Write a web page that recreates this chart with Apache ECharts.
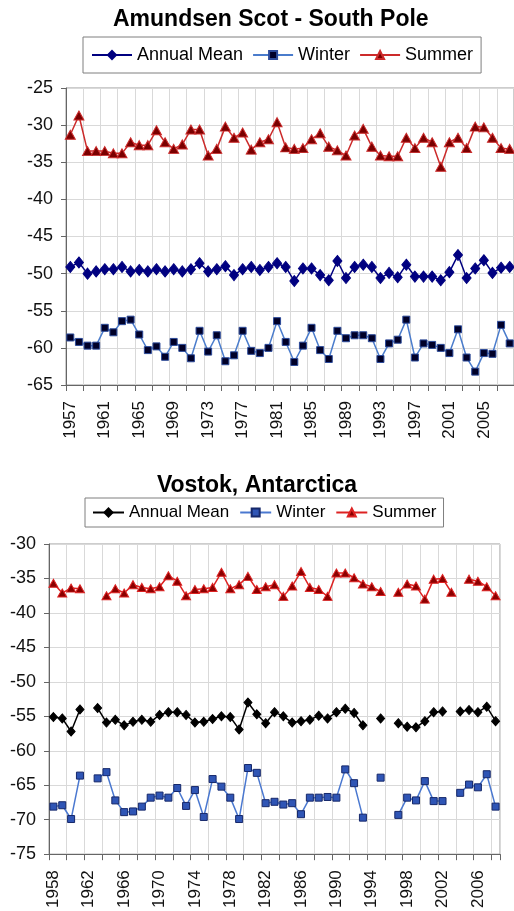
<!DOCTYPE html>
<html>
<head>
<meta charset="utf-8">
<script src="https://cdn.jsdelivr.net/npm/echarts@6/dist/echarts.min.js"></script>
<style>
  html, body { margin: 0; padding: 0; background: #fff; }
  #south_pole { width: 514px; height: 465px; }
  #vostok { width: 514px; height: 446px; }
</style>
</head>
<body>
<div id="south_pole"></div>
<div id="vostok"></div>
<script>
// Amundsen Scot - South Pole, 1957-2008
const pole_years = [];
for (let y = 1957; y <= 2008; y++) pole_years.push(String(y));
const pole_annual = [-49.1, -48.5, -50.0, -49.7, -49.4, -49.4, -49.1, -49.7, -49.5, -49.7,
  -49.4, -49.7, -49.4, -49.7, -49.4, -48.6, -49.7, -49.4, -49.0, -50.2,
  -49.4, -49.1, -49.5, -49.1, -48.6, -49.1, -51.0, -49.3, -49.3, -50.2,
  -50.9, -48.3, -50.6, -49.1, -48.8, -49.1, -50.6, -49.9, -50.5, -48.8,
  -50.4, -50.4, -50.4, -50.9, -49.8, -47.5, -50.6, -49.3, -48.2, -49.9,
  -49.2, -49.1];
const pole_winter = [-58.6, -59.2, -59.7, -59.7, -57.3, -57.9, -56.4, -56.2, -58.2, -60.3,
  -59.8, -61.2, -59.2, -60.0, -61.4, -57.7, -60.5, -58.3, -61.8, -61.0,
  -57.7, -60.4, -60.7, -60.0, -56.4, -59.2, -61.9, -59.7, -57.3, -60.3,
  -61.5, -57.7, -58.7, -58.3, -58.3, -58.7, -61.5, -59.4, -58.9, -56.2,
  -61.3, -59.4, -59.6, -60.0, -60.7, -57.5, -61.3, -63.2, -60.7, -60.8,
  -56.9, -59.4];
const pole_summer = [-31.3, -28.7, -33.5, -33.5, -33.5, -33.8, -33.8, -32.3, -32.7, -32.7,
  -30.7, -32.3, -33.2, -32.6, -30.6, -30.6, -34.1, -33.2, -30.2, -31.7,
  -31.0, -33.3, -32.3, -31.9, -29.6, -33.0, -33.2, -33.1, -31.9, -31.1,
  -32.9, -33.4, -34.1, -31.4, -30.5, -32.9, -34.1, -34.2, -34.2, -31.7,
  -33.1, -31.7, -32.3, -35.6, -32.3, -31.7, -33.1, -30.2, -30.3, -31.7,
  -33.1, -33.2];

// Vostok, Antarctica, 1958-2008 (null = no data)
const vostok_years = [];
for (let y = 1958; y <= 2008; y++) vostok_years.push(String(y));
const vostok_annual = [-55.1, -55.3, -57.2, -54.0, null, -53.8, -55.9, -55.5, -56.3, -55.8,
  -55.5, -55.8, -54.8, -54.4, -54.4, -54.8, -55.9, -55.8, -55.4, -55.0,
  -55.1, -56.9, -53.0, -54.7, -56.0, -54.4, -55.0, -55.9, -55.7, -55.5,
  -54.9, -55.3, -54.4, -53.9, -54.5, -56.3, null, -55.3, null, -56.0,
  -56.5, -56.6, -55.7, -54.4, -54.3, null, -54.3, -54.1, -54.4, -53.6,
  -55.7];
const vostok_winter = [-68.1, -67.9, -69.9, -63.6, null, -64.0, -63.1, -67.2, -68.9, -68.8,
  -68.1, -66.8, -66.5, -66.8, -65.4, -68.0, -65.7, -69.6, -64.1, -65.2,
  -66.8, -69.9, -62.5, -63.2, -67.6, -67.4, -67.8, -67.6, -69.2, -66.8,
  -66.8, -66.7, -66.8, -62.7, -64.7, -69.7, null, -63.9, null, -69.3,
  -66.8, -67.2, -64.4, -67.3, -67.3, null, -66.1, -64.9, -65.3, -63.4,
  -68.1];
const vostok_summer = [-35.7, -37.1, -36.4, -36.5, null, null, -37.5, -36.5, -37.1, -35.9,
  -36.3, -36.5, -36.2, -34.6, -35.4, -37.5, -36.6, -36.5, -36.3, -34.1,
  -36.5, -35.9, -34.7, -36.6, -36.2, -35.9, -37.6, -36.1, -34.0, -36.3,
  -36.6, -37.6, -34.2, -34.2, -34.9, -35.8, -36.2, -36.9, null, -37.0,
  -35.8, -36.1, -38.0, -35.1, -35.0, -37.0, null, -35.1, -35.4, -36.2,
  -37.5];

const font = "'Liberation Sans', Arial, sans-serif";

function line_series(name, data, symbol, size, fill, border, line_color) {
  return {
    name: name,
    type: 'line',
    data: data,
    symbol: symbol,
    symbolSize: size,
    showAllSymbol: true,
    connectNulls: false,
    animation: false,
    itemStyle: {color: fill, borderColor: border, borderWidth: 1},
    lineStyle: {color: line_color, width: 1.5}
  };
}

function render_chart(cfg) {
  return {
    animation: false,
    title: {
      text: cfg.title,
      left: cfg.title_left,
      top: cfg.title_top,
      padding: 0,
      textStyle: {fontFamily: font, fontSize: 23, fontWeight: 'bold', color: '#000'}
    },
    legend: {
      left: cfg.legend.left,
      top: cfg.legend.top,
      padding: cfg.legend.padding,
      itemGap: cfg.legend.gap,
      itemWidth: cfg.legend.icon_width,
      itemHeight: 10,
      borderColor: '#7f7f7f',
      borderWidth: 1,
      backgroundColor: '#fff',
      textStyle: {fontFamily: font, fontSize: cfg.legend.font_size, color: '#000'},
      data: ['Annual Mean', 'Winter', 'Summer']
    },
    grid: {
      left: cfg.grid.left,
      top: cfg.grid.top,
      width: cfg.grid.width,
      height: cfg.grid.height,
      show: true,
      borderColor: '#9a9a9a',
      borderWidth: 1
    },
    xAxis: {
      type: 'category',
      data: cfg.years,
      boundaryGap: true,
      axisLine: {lineStyle: {color: '#666', width: 1}},
      axisTick: {show: true, interval: 1, length: 6, lineStyle: {color: '#666'}},
      splitLine: {show: true, interval: 1, lineStyle: {color: '#d9d9d9', width: 1}},
      axisLabel: {
        interval: 3,
        rotate: 90,
        margin: 16,
        fontFamily: font,
        fontSize: 17,
        color: '#111'
      }
    },
    yAxis: {
      type: 'value',
      min: cfg.y_min,
      max: cfg.y_max,
      interval: 5,
      axisLine: {show: true, lineStyle: {color: '#666', width: 1}},
      axisTick: {show: true, length: 5, lineStyle: {color: '#666'}},
      splitLine: {show: true, lineStyle: {color: '#d9d9d9', width: 1}},
      axisLabel: {margin: 13, fontFamily: font, fontSize: 18, color: '#111'}
    },
    series: cfg.series
  };
}

const pole_chart = echarts.init(document.getElementById('south_pole'));
pole_chart.setOption(render_chart({
  title: 'Amundsen Scot - South Pole',
  title_left: 113,
  title_top: 8,
  legend: {left: 83, top: 37, padding: [9, 8], gap: 9, icon_width: 40, font_size: 18},
  grid: {left: 66, top: 88, width: 450, height: 297},
  years: pole_years,
  y_min: -65,
  y_max: -25,
  series: [
    line_series('Annual Mean', pole_annual, 'diamond', [9, 11], '#000080', '#000080', '#000080'),
    line_series('Winter', pole_winter, 'rect', 7, '#000028', '#2c4a9a', '#4a7ccc'),
    line_series('Summer', pole_summer, 'triangle', [10, 9], '#7a0000', '#cc2a2a', '#cc2a2a')
  ]
}));

const vostok_chart = echarts.init(document.getElementById('vostok'));
vostok_chart.setOption(render_chart({
  title: 'Vostok, Antarctica',
  title_left: 'center',
  title_top: 9,
  legend: {left: 85, top: 33, padding: [6, 7], gap: 10, icon_width: 31, font_size: 17},
  grid: {left: 49, top: 79, width: 451, height: 312},
  years: vostok_years,
  y_min: -75,
  y_max: -30,
  series: [
    line_series('Annual Mean', vostok_annual, 'diamond', [8, 9], '#000', '#000', '#000'),
    line_series('Winter', vostok_winter, 'rect', 7, '#2f55b5', '#16286a', '#4a78d0'),
    line_series('Summer', vostok_summer, 'triangle', [9, 8], '#8b0000', '#dd2222', '#dd2222')
  ]
}));
</script>
</body>
</html>
